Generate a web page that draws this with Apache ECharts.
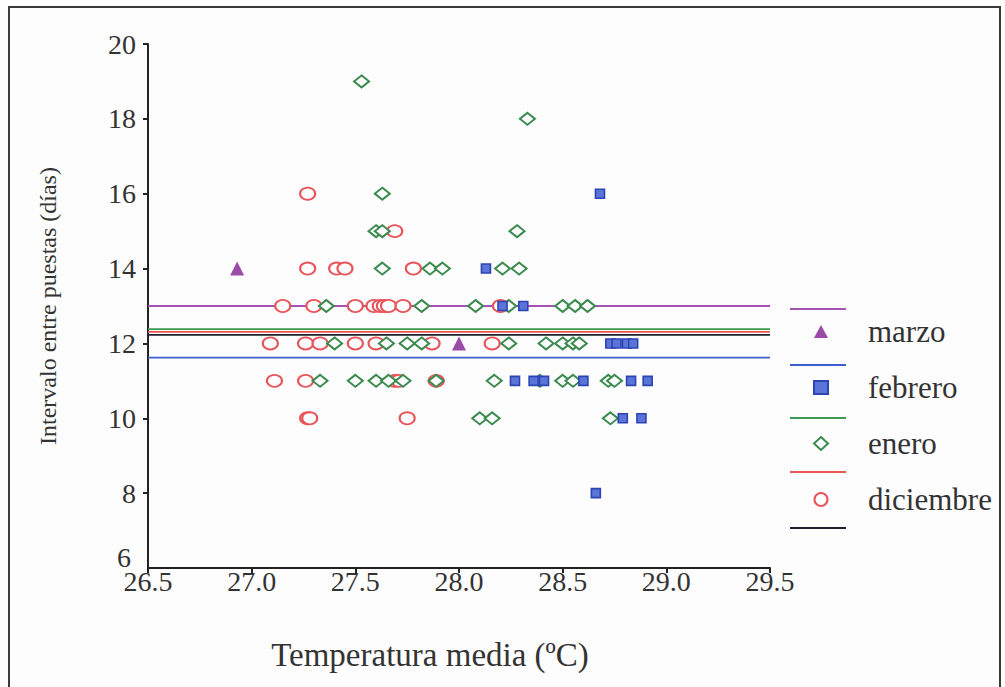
<!DOCTYPE html>
<html>
<head>
<meta charset="utf-8">
<script src="https://cdn.jsdelivr.net/npm/echarts@6/dist/echarts.min.js"></script>
<style>
html,body{margin:0;padding:0;background:#fdfdfd;}
#c{width:1005px;height:687px;}
</style>
</head>
<body>
<div id="c"></div>
<script>
// ---- data ----
const seriesNames = ['marzo', 'febrero', 'enero', 'diciembre'];
const marzo = [[26.93, 14], [28.0, 12]];
const febrero = [
  [28.68, 16], [28.13, 14], [28.21, 13], [28.31, 13],
  [28.73, 12], [28.76, 12], [28.81, 12], [28.84, 12],
  [28.27, 11], [28.36, 11], [28.41, 11], [28.60, 11], [28.83, 11], [28.91, 11],
  [28.79, 10], [28.88, 10], [28.66, 8]
];
const enero = [
  [27.53, 19], [28.33, 18], [27.63, 16],
  [27.60, 15], [27.63, 15], [28.28, 15],
  [27.63, 14], [27.86, 14], [27.92, 14], [28.21, 14], [28.29, 14],
  [27.36, 13], [27.82, 13], [28.08, 13], [28.24, 13], [28.50, 13], [28.56, 13], [28.62, 13],
  [27.40, 12], [27.65, 12], [27.75, 12], [27.82, 12], [28.24, 12], [28.42, 12], [28.50, 12], [28.55, 12], [28.58, 12],
  [27.33, 11], [27.50, 11], [27.60, 11], [27.66, 11], [27.73, 11], [27.89, 11], [28.17, 11], [28.39, 11], [28.50, 11], [28.55, 11], [28.72, 11], [28.75, 11],
  [28.10, 10], [28.16, 10], [28.73, 10]
];
const diciembre = [
  [27.27, 16], [27.69, 15],
  [27.27, 14], [27.41, 14], [27.45, 14], [27.78, 14],
  [27.15, 13], [27.30, 13], [27.50, 13], [27.59, 13], [27.62, 13], [27.64, 13], [27.66, 13], [27.73, 13], [28.20, 13],
  [27.09, 12], [27.26, 12], [27.33, 12], [27.50, 12], [27.60, 12], [27.87, 12], [28.16, 12],
  [27.11, 11], [27.26, 11], [27.69, 11], [27.71, 11], [27.89, 11],
  [27.27, 10], [27.28, 10], [27.75, 10]
];
// mean (horizontal) lines: marzo, febrero, enero, diciembre, total
const meanNames = ['media marzo', 'media febrero', 'media enero', 'media diciembre', 'media total'];
const meanValues = [13.0, 11.62, 12.38, 12.31, 12.23];
const xRange = [26.5, 29.5];
const yMin = 6;

// ---- styles ----
const FONT = '"Liberation Serif", "Times New Roman", serif';
const colors = ['#9c4aa8', '#5a74d8', '#3a8a4e', '#e8545a'];
const meanColors = ['#a453b4', '#3f5fd0', '#3a9a52', '#e85858', '#1e1e2e'];
const symbols = ['triangle', 'rect', 'emptyDiamond', 'emptyCircle'];
const symbolSizes = [14, 9, [15, 12], [15, 12]];
const dataSets = [marzo, febrero, enero, diciembre];

const chart = echarts.init(document.getElementById('c'), null, {renderer: 'svg'});

const series = [];
meanValues.forEach((v, i) => {
  series.push({
    name: meanNames[i],
    type: 'line',
    data: [[xRange[0], v], [xRange[1], v]],
    showSymbol: false,
    symbol: 'none',
    silent: true,
    lineStyle: {color: meanColors[i], width: 1.8},
    z: 1
  });
});
[3, 2, 1, 0].forEach(i => {
  series.push({
    name: seriesNames[i],
    type: 'scatter',
    data: dataSets[i],
    symbol: symbols[i],
    symbolSize: symbolSizes[i],
    itemStyle: {
      color: colors[i],
      borderColor: i === 1 ? '#2c44b4' : colors[i],
      borderWidth: i >= 2 ? 2.4 : (i === 1 ? 1.6 : 0),
      opacity: 1
    },
    z: 3
  });
});

// legend line samples (decoration)
const legendLineY = [309, 365, 418, 472, 528];
const graphics = [{
  type: 'rect', shape: {x: 9, y: 7, width: 991, height: 700},
  style: {fill: 'none', stroke: '#3a3a3a', lineWidth: 2}, silent: true
}];
legendLineY.forEach((y, i) => {
  graphics.push({
    type: 'line', shape: {x1: 790, y1: y, x2: 846, y2: y},
    style: {stroke: meanColors[i], lineWidth: 2}, silent: true
  });
});

chart.setOption({
  backgroundColor: '#fdfdfd',
  animation: false,
  grid: {left: 148, top: 44, width: 622, height: 524, containLabel: false},
  xAxis: {
    type: 'value', min: xRange[0], max: xRange[1], interval: 0.5,
    name: 'Temperatura media (ºC)', nameLocation: 'middle', nameGap: 70,
    nameTextStyle: {fontFamily: FONT, fontSize: 33, color: '#333', padding: [0, 58, 0, 0]},
    axisLine: {show: true, onZero: false, lineStyle: {color: '#222', width: 2}},
    axisTick: {show: true, length: 5, lineStyle: {color: '#222', width: 2}},
    axisLabel: {fontFamily: FONT, fontSize: 28, color: '#333', margin: -1,
      formatter: v => Number(v).toFixed(1)},
    splitLine: {show: false}
  },
  yAxis: {
    type: 'value', min: yMin, max: 20, interval: 2,
    name: 'Intervalo entre puestas (días)', nameLocation: 'middle', nameGap: 88,
    nameTextStyle: {fontFamily: FONT, fontSize: 24, color: '#333'},
    axisLine: {show: true, onZero: false, lineStyle: {color: '#222', width: 2}},
    axisTick: {show: true, length: 5, lineStyle: {color: '#222', width: 2}},
    axisLabel: {fontFamily: FONT, fontSize: 28, color: '#333', margin: 12, showMinLabel: false},
    splitLine: {show: false}
  },
  legend: {
    data: seriesNames,
    orient: 'vertical',
    left: 808, top: 311,
    itemWidth: 14, itemHeight: 13, itemGap: 25,
    selectedMode: false,
    textStyle: {fontFamily: FONT, fontSize: 31, color: '#333', lineHeight: 30, padding: [0, 0, 0, 35]}
  },
  graphic: graphics,
  series: series
});

// min y label, raised slightly above its tick (as in the original), placed via the axis scale
const px = chart.convertToPixel({xAxisIndex: 0}, xRange[0]);
const py = chart.convertToPixel({yAxisIndex: 0}, yMin);
graphics.push({
  type: 'text', x: px - 17, y: py - 11, silent: true,
  style: {text: String(yMin), fontFamily: FONT, fontSize: 28, fill: '#333', align: 'right', verticalAlign: 'middle'}
});
chart.setOption({graphic: graphics});
</script>
</body>
</html>
